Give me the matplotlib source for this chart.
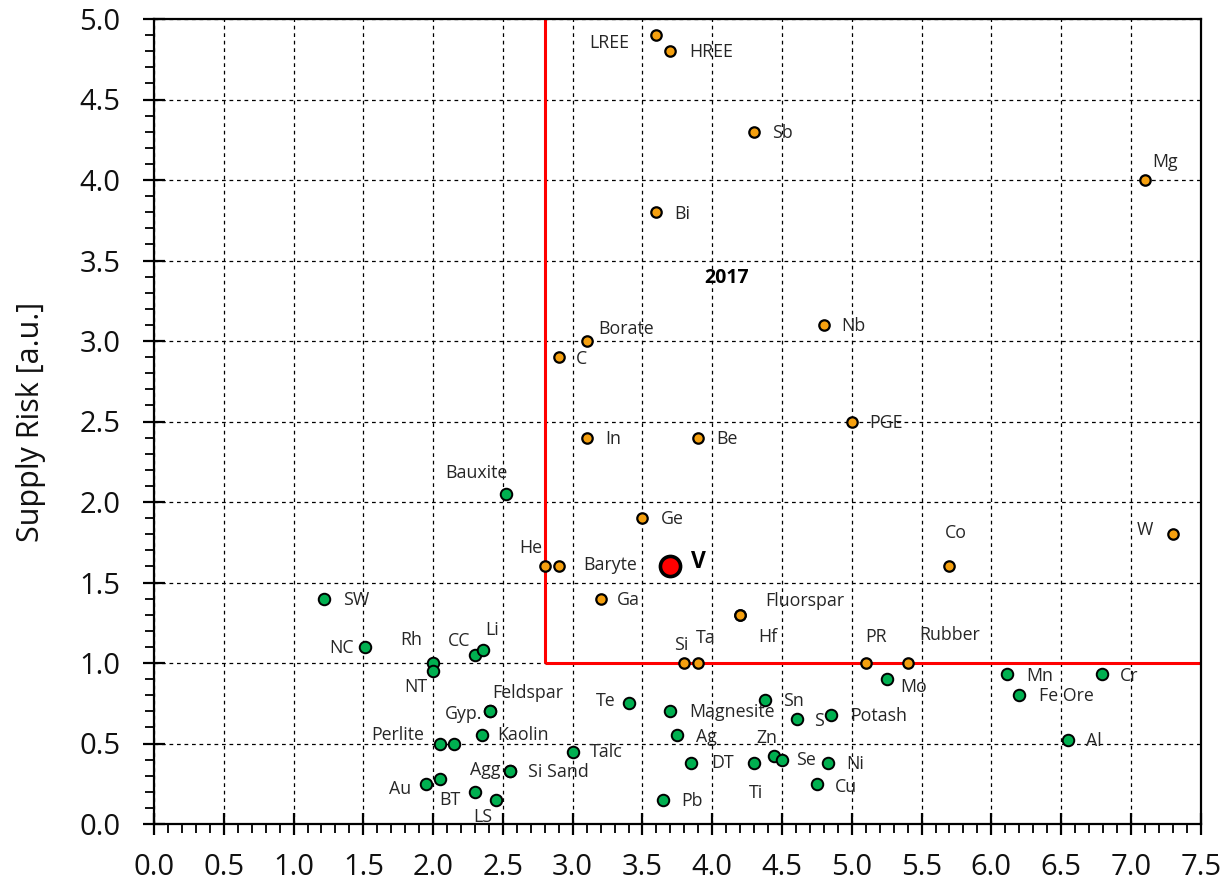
import matplotlib
matplotlib.use("Agg")
import matplotlib.pyplot as plt
from matplotlib.ticker import MultipleLocator, FormatStrFormatter

# ---------------- data ----------------
crit_names = ["LREE", "HREE", "Sb", "Mg", "Bi", "Nb", "Borate", "C", "PGE", "In", "Be",
              "Ge", "Co", "W", "He", "Baryte", "Ga", "Fluorspar", "Hf", "Si", "Ta", "PR", "Rubber"]
crit_x = [3.6, 3.7, 4.3, 7.1, 3.6, 4.8, 3.1, 2.9, 5.0, 3.1, 3.9,
          3.5, 5.7, 7.3, 2.8, 2.9, 3.2, 4.2, 4.2, 3.8, 3.9, 5.1, 5.4]
crit_y = [4.9, 4.8, 4.3, 4.0, 3.8, 3.1, 3.0, 2.9, 2.5, 2.4, 2.4,
          1.9, 1.6, 1.8, 1.6, 1.6, 1.4, 1.3, 1.3, 1.0, 1.0, 1.0, 1.0]

noncrit_names = ["Bauxite", "SW", "NC", "Rh", "NT", "CC", "Li", "Feldspar", "Gyp.", "Kaolin",
                 "Perlite", "", "Talc", "Te", "Magnesite", "Ag", "DT", "Pb", "Ti", "Zn", "Se",
                 "Sn", "S", "Potash", "Ni", "Cu", "Mo", "Mn", "Fe Ore", "Cr", "Al",
                 "Agg", "Si Sand", "Au", " ", "BT", "LS"]
noncrit_x = [2.52, 1.22, 1.51, 2.0, 2.0, 2.30, 2.36, 2.41, 2.41, 2.35,
             2.05, 2.15, 3.0, 3.4, 3.7, 3.75, 3.85, 3.65, 4.3, 4.44, 4.5,
             4.38, 4.61, 4.85, 4.83, 4.75, 5.25, 6.11, 6.2, 6.79, 6.55,
             2.55, 2.55, 1.95, 2.05, 2.30, 2.45]
noncrit_y = [2.05, 1.40, 1.10, 1.0, 0.95, 1.05, 1.08, 0.70, 0.70, 0.55,
             0.50, 0.50, 0.45, 0.75, 0.70, 0.55, 0.38, 0.15, 0.38, 0.42, 0.40,
             0.77, 0.65, 0.68, 0.38, 0.25, 0.90, 0.93, 0.80, 0.93, 0.52,
             0.33, 0.33, 0.25, 0.28, 0.20, 0.15]

v_name = "V"
v_x = 3.7
v_y = 1.6

year_text = "2017"
threshold_x = 2.8
threshold_y = 1.0
x_ticks = [0.0, 0.5, 1.0, 1.5, 2.0, 2.5, 3.0, 3.5, 4.0, 4.5, 5.0, 5.5, 6.0, 6.5, 7.0, 7.5]
y_ticks = [0.0, 0.5, 1.0, 1.5, 2.0, 2.5, 3.0, 3.5, 4.0, 4.5, 5.0]
y_label = "Supply Risk [a.u.]"

# label offsets (pixels, relative to the marker)
LABEL_OFFSETS = {
    "LREE": (-47, -8), "HREE": (41, -1), "Sb": (28, -1), "Mg": (20, 18), "Bi": (26, -2),
    "Nb": (29, -1), "Borate": (39, 12), "C": (23, -2), "PGE": (34, -1), "In": (27, -1),
    "Be": (29, -1), "Ge": (30, -1), "Co": (6, 33), "W": (-28, 4), "He": (-14, 18),
    "Baryte": (51, 1), "Ga": (28, -1), "Fluorspar": (65, 14), "Hf": (28, -22),
    "Si": (-3, 18), "Ta": (7, 25), "PR": (10, 26), "Rubber": (42, 28),
    "Bauxite": (-29, 21), "SW": (32, -1), "NC": (-23, -1), "Rh": (-22, 23), "NT": (-17, -16),
    "CC": (-16, 14), "Li": (9, 20), "Feldspar": (37, 18), "Gyp.": (-27, -3), "Kaolin": (41, 0),
    "Perlite": (-42, 8), "": (0, 0), " ": (0, 0), "Talc": (34, 0), "Te": (-23, 2),
    "Magnesite": (62, -1), "Ag": (29, -2), "DT": (31, 0), "Pb": (29, -1), "Ti": (2, -30),
    "Zn": (-7, 18), "Se": (24, 0), "Sn": (28, -1), "S": (22, -2), "Potash": (48, -1),
    "Ni": (27, -1), "Cu": (29, -3), "Mo": (27, -8), "Mn": (33, -2), "Fe Ore": (47, -1),
    "Cr": (28, -2), "Al": (26, -1), "Agg": (-25, 1), "Si Sand": (48, -1), "Au": (-26, -5),
    "BT": (-25, -8), "LS": (-13, -17), "V": (28, 4),
}

# ---------------- style ----------------
LABEL_FONT = ["Open Sans", "DejaVu Sans"]
plt.rcParams["font.family"] = LABEL_FONT
ORANGE = "#F5A00F"
GREEN = "#00B050"
TEXT_COLOR = "#262626"

fig = plt.figure(figsize=(12.29, 8.84), dpi=100)
ax = fig.add_axes([154 / 1229, 60 / 884, 1046.7 / 1229, 805 / 884])
ax.set_xlim(0, 7.5)
ax.set_ylim(0, 5.0)

ax.xaxis.set_minor_locator(MultipleLocator(0.1))
ax.yaxis.set_minor_locator(MultipleLocator(0.1))
ax.set_xticks(x_ticks)
ax.set_yticks(y_ticks)
ax.xaxis.set_major_formatter(FormatStrFormatter("%.1f"))
ax.yaxis.set_major_formatter(FormatStrFormatter("%.1f"))
ax.grid(True, which="major", color="black", linestyle=(0, (3, 3)), linewidth=0.9, zorder=0)
ax.set_axisbelow(True)

for sp in ax.spines.values():
    sp.set_linewidth(1.6)
    sp.set_color("black")

ax.tick_params(axis="both", which="major", direction="inout", length=16, width=1.6,
               labelsize=21, pad=13, colors="black", top=False, right=False)
ax.tick_params(axis="y", which="major", pad=16)
ax.tick_params(axis="both", which="minor", direction="out", length=6.5, width=1.3,
               top=False, right=False)
for lab in ax.get_xticklabels() + ax.get_yticklabels():
    lab.set_color("#111111")

ax.set_ylabel(y_label, fontsize=22, color="#111111", labelpad=24)

# threshold lines
ax.plot([threshold_x, threshold_x], [threshold_y, 5.0], color="red", linewidth=2.2, zorder=2,
        solid_capstyle="butt")
ax.plot([threshold_x, 7.5], [threshold_y, threshold_y], color="red", linewidth=2.2, zorder=2,
        solid_capstyle="butt")

# points
ax.plot(noncrit_x, noncrit_y, linestyle="none", marker="o", markersize=8.3,
        markerfacecolor=GREEN, markeredgecolor="black", markeredgewidth=1.4, zorder=4)
ax.plot(crit_x, crit_y, linestyle="none", marker="o", markersize=7.5,
        markerfacecolor=ORANGE, markeredgecolor="black", markeredgewidth=1.6, zorder=4)
ax.plot([v_x], [v_y], linestyle="none", marker="o", markersize=14.5,
        markerfacecolor="red", markeredgecolor="black", markeredgewidth=2.6, zorder=5)


def label(name, x, y, **kw):
    if not name.strip():
        return
    dx, dy = LABEL_OFFSETS.get(name, (25, 0))
    ax.annotate(name, (x, y), xytext=(dx, dy), textcoords="offset pixels",
                ha="center", va="center", fontsize=12.8, color=TEXT_COLOR, zorder=6, **kw)


for n, x, y in zip(crit_names, crit_x, crit_y):
    label(n, x, y)
for n, x, y in zip(noncrit_names, noncrit_x, noncrit_y):
    label(n, x, y)

dx, dy = LABEL_OFFSETS[v_name]
ax.annotate(v_name, (v_x, v_y), xytext=(dx, dy), textcoords="offset pixels",
            ha="center", va="center", fontsize=16.5, fontweight="bold", color="black", zorder=6)

ax.text(4.1, 3.39, year_text, ha="center", va="center", fontsize=14, fontweight="bold",
        color="black", zorder=6)

fig.savefig("out.png", dpi=100)
